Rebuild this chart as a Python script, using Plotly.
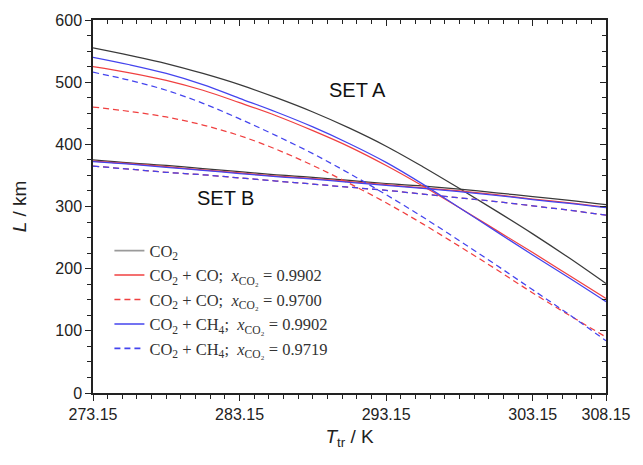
import plotly.graph_objects as go

T = [273.15, 275.65, 278.15, 280.65, 283.15, 285.65, 288.15, 290.65,
     293.15, 295.65, 298.15, 300.65, 303.15, 305.65, 308.15]

# SET A
co2_A =      [555, 543, 530, 514, 496, 475, 452, 426, 397, 364, 329, 293, 256, 217, 176]
co_9902_A =  [525, 515, 503, 487, 467, 446, 422, 396, 366, 333, 298, 262, 226, 189, 152]
co_9700_A =  [460, 453, 444, 431, 414, 392, 366, 337, 306, 272, 236, 199, 161, 125, 90]
ch4_9902_A = [540, 528, 514, 496, 474, 452, 428, 401, 371, 336, 298, 260, 222, 185, 147]
ch4_9719_A = [516, 503, 487, 466, 441, 414, 385, 353, 319, 283, 245, 206, 166, 126, 84]

# SET B
co2_B =      [375, 370, 366, 361, 356, 351, 347, 342, 337, 333, 328, 322, 316, 310, 303]
co_9902_B =  [373, 369, 364, 359, 354, 349, 345, 340, 335, 330, 325, 319, 312, 306, 299]
co_9700_B =  [365, 360, 355, 351, 346, 341, 336, 331, 326, 320, 314, 308, 301, 294, 286]
ch4_9902_B = [372, 368, 363, 358, 353, 348, 344, 339, 334, 329, 324, 318, 311, 305, 298]
ch4_9719_B = [365, 360, 355, 351, 346, 341, 336, 331, 326, 320, 314, 308, 301, 294, 286]

x_major = [273.15, 283.15, 293.15, 303.15, 308.15]
x_labels = ["273.15", "283.15", "293.15", "303.15", "308.15"]
y_major = [0, 100, 200, 300, 400, 500, 600]

BLACK = "#3a3a3a"
RED = "#f04040"
BLUE = "#4444ee"
DASH = "6px,4px"

series = [
    ("CO<sub>2</sub>", co2_A, co2_B, BLACK, "solid"),
    ("CO<sub>2</sub> + CO;  <i>x</i><sub>CO₂</sub> = 0.9902", co_9902_A, co_9902_B, RED, "solid"),
    ("CO<sub>2</sub> + CO;  <i>x</i><sub>CO₂</sub> = 0.9700", co_9700_A, co_9700_B, RED, DASH),
    ("CO<sub>2</sub> + CH<sub>4</sub>;  <i>x</i><sub>CO₂</sub> = 0.9902", ch4_9902_A, ch4_9902_B, BLUE, "solid"),
    ("CO<sub>2</sub> + CH<sub>4</sub>;  <i>x</i><sub>CO₂</sub> = 0.9719", ch4_9719_A, ch4_9719_B, BLUE, DASH),
]

fig = go.Figure()
for name, ya, yb, col, dash in series:
    legcol = "#9a9a9a" if col == BLACK else col
    for yv in (ya, yb):
        fig.add_trace(go.Scatter(x=T, y=yv, mode="lines", name=name,
                                 line=dict(color=col, width=1.25, dash=dash, shape="spline", smoothing=1.0),
                                 showlegend=False))
    fig.add_trace(go.Scatter(x=[None], y=[None], mode="lines", name=name,
                             line=dict(color=legcol, width=1.6, dash=dash), showlegend=True))

# mirror axes (top/right) with inside ticks
fig.add_trace(go.Scatter(x=[], y=[], xaxis="x2", yaxis="y2", showlegend=False))

minor_x = [273.15 + i for i in range(36)]

SANS = "Liberation Sans, Arial, sans-serif"
axis_font = dict(family=SANS, size=16, color="#222")
common = dict(showline=True, linecolor="#222", linewidth=1.5, showgrid=False, zeroline=False,
              tickwidth=1.3, tickcolor="#222", ticklen=6)

fig.update_layout(
    width=643, height=465,
    margin=dict(l=93, r=30, t=15, b=72),
    plot_bgcolor="white", paper_bgcolor="white",
    showlegend=True,
    legend=dict(x=0.032, y=0.428, xanchor="left", yanchor="top",
                bgcolor="rgba(0,0,0,0)", borderwidth=0,
                font=dict(family="Liberation Serif, Times New Roman, serif", size=16.5, color="#333"),
                tracegroupgap=0, itemwidth=30),
    xaxis=dict(range=[273.15, 308.15], tickvals=x_major, ticktext=x_labels, ticks="outside",
               tickfont=axis_font,
               minor=dict(tickvals=minor_x, ticks="outside", ticklen=4, tickcolor="#222", tickwidth=1, showgrid=False),
               title=dict(text="<i>T</i><sub>tr</sub> / K", font=dict(family=SANS, size=19, color="#222"), standoff=8),
               **common),
    yaxis=dict(range=[0, 600], tickvals=y_major, ticks="outside",
               tickfont=axis_font,
               minor=dict(dtick=25, tick0=0, ticks="outside", ticklen=4, tickcolor="#222", tickwidth=1, showgrid=False),
               title=dict(text="<i>L</i> / km", font=dict(family=SANS, size=19, color="#222"), standoff=24),
               **common),
    xaxis2=dict(range=[273.15, 308.15], overlaying="x", side="top", tickvals=x_major,
                showticklabels=False, ticks="inside",
                minor=dict(tickvals=minor_x, ticks="inside", ticklen=4, tickcolor="#222", tickwidth=1, showgrid=False),
                **common),
    yaxis2=dict(range=[0, 600], overlaying="y", side="right", tickvals=y_major,
                showticklabels=False, ticks="inside",
                minor=dict(dtick=25, tick0=0, ticks="inside", ticklen=4, tickcolor="#222", tickwidth=1, showgrid=False),
                **common),
    annotations=[
        dict(x=291.2, y=487, xref="x", yref="y", text="SET A", showarrow=False,
             font=dict(family=SANS, size=20, color="#111")),
        dict(x=282.2, y=313, xref="x", yref="y", text="SET B", showarrow=False,
             font=dict(family=SANS, size=20, color="#111")),
    ],
)

fig.write_html("out.html")
